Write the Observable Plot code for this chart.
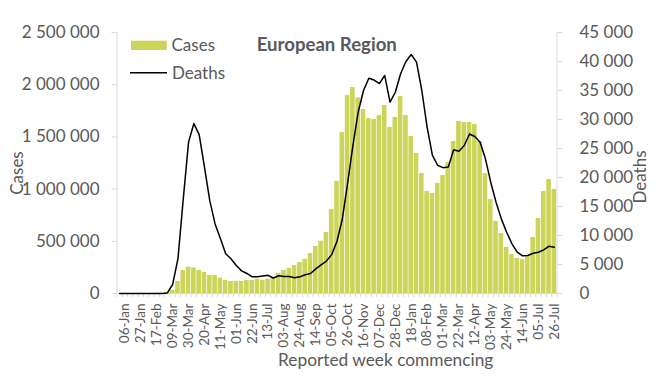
<!DOCTYPE html>
<html><head><meta charset="utf-8">
<script src="https://cdn.jsdelivr.net/npm/d3@7"></script>
<script src="https://cdn.jsdelivr.net/npm/@observablehq/plot@0.6"></script>
<style>
html,body{margin:0;padding:0;background:#fff;}
#chart{width:666px;height:378px;}
</style></head><body><div id="chart"></div>
<script>
// Reported week commencing (30-Dec-2019 .. 26-Jul-2021)
const weeks = ["30-Dec","06-Jan","13-Jan","20-Jan","27-Jan","03-Feb","10-Feb","17-Feb","24-Feb",
"02-Mar","09-Mar","16-Mar","23-Mar","30-Mar","06-Apr","13-Apr","20-Apr","27-Apr","04-May","11-May",
"18-May","25-May","01-Jun","08-Jun","15-Jun","22-Jun","29-Jun","06-Jul","13-Jul","20-Jul","27-Jul",
"03-Aug","10-Aug","17-Aug","24-Aug","31-Aug","07-Sep","14-Sep","21-Sep","28-Sep","05-Oct","12-Oct",
"19-Oct","26-Oct","02-Nov","09-Nov","16-Nov","23-Nov","30-Nov","07-Dec","14-Dec","21-Dec","28-Dec",
"04-Jan","11-Jan","18-Jan","25-Jan","01-Feb","08-Feb","15-Feb","22-Feb","01-Mar","08-Mar","15-Mar",
"22-Mar","29-Mar","05-Apr","12-Apr","19-Apr","26-Apr","03-May","10-May","17-May","24-May","31-May",
"07-Jun","14-Jun","21-Jun","28-Jun","05-Jul","12-Jul","19-Jul","26-Jul"];

const tickLabels = ["06-Jan","27-Jan","17-Feb","09-Mar","30-Mar","20-Apr","11-May","01-Jun","22-Jun",
"13-Jul","03-Aug","24-Aug","14-Sep","05-Oct","26-Oct","16-Nov","07-Dec","28-Dec","18-Jan","08-Feb",
"01-Mar","22-Mar","12-Apr","03-May","24-May","14-Jun","05-Jul","26-Jul"];

const cases = [0,0,0,0,0,0,0,500,2000,8000,
29000,115000,220000,252000,243000,220000,201000,172000,172000,147000,
125000,115000,115000,115000,127000,125000,137000,127000,137000,153000,
193000,221000,241000,268000,297000,329000,383000,450000,501000,585000,
805000,1073000,1542000,1896000,1973000,1874000,1762000,1676000,1667000,1705000,
1801000,1590000,1686000,1887000,1705000,1504000,1341000,1149000,977000,958000,
1054000,1130000,1255000,1456000,1647000,1638000,1638000,1619000,1456000,1149000,
900000,690000,575000,441000,374000,335000,326000,364000,536000,718000,
977000,1092000,996000];

const deaths = [0,0,0,0,0,0,0,0,0,100,
1550,6000,16300,26100,29300,27400,21800,16000,12000,9500,
6840,5980,4830,3900,3450,2870,2870,3000,3130,2670,
3050,2930,2930,2700,2870,3220,3450,4250,4950,5600,
6700,9000,12800,19000,25500,31300,35000,37100,36800,36200,
37600,33000,34700,37900,40000,41200,39900,35000,28700,23800,
22100,21700,21800,24770,24530,25520,27500,27070,26090,23220,
19190,15740,12870,10570,8570,7120,6500,6550,6950,7120,
7530,8160,7980];

const caseTicks = [0,500000,1000000,1500000,2000000,2500000];
const deathTicks = [0,5000,10000,15000,20000,25000,30000,35000,40000,45000];

const CASE_MAX = 2500000, DEATH_MAX = 45000, k = CASE_MAX / DEATH_MAX;
const data = weeks.map((w, i) => ({i, week: w, cases: cases[i], deaths: deaths[i]}));
const fmt = d3.formatLocale({decimal: ",", thousands: "\u00a0", grouping: [3], currency: ["", ""]}).format(",");
const labelIdx = tickLabels.map(l => weeks.indexOf(l));
const boundaries = d3.range(weeks.length + 1).map(i => i - 0.5);
const gray = "#d9d9d9", txt = "#595959", font = "Lato, 'Open Sans', sans-serif", barColor = "#ccd55a";

const chart = Plot.plot({
  width: 666, height: 378,
  marginLeft: 116.5, marginRight: 109.5, marginTop: 32, marginBottom: 85,
  style: {fontFamily: font, background: "#fff", color: txt},
  x: {type: "linear", domain: [-0.5, weeks.length - 0.5], axis: null},
  y: {domain: [0, CASE_MAX], axis: null},
  marks: [
    Plot.rectY(data, {x1: d => d.i - 0.5, x2: d => d.i + 0.5, y: "cases", fill: barColor, insetLeft: 0.35, insetRight: 0.35}),
    Plot.ruleY([0], {stroke: gray}),
    Plot.ruleX([-0.5, weeks.length - 0.5], {y1: 0, y2: CASE_MAX, stroke: gray}),
    Plot.axisY({anchor: "left", ticks: caseTicks, tickFormat: fmt, tickSize: 5, tickPadding: 12.5,
      stroke: gray, fill: txt, fontSize: 17, label: null}),
    Plot.axisY({anchor: "right", ticks: deathTicks.map(d => d * k), tickFormat: d => fmt(Math.round(d / k)),
      tickSize: 5, tickPadding: 17.5, stroke: gray, fill: txt, fontSize: 17, label: null}),
    Plot.axisX({ticks: boundaries, tickFormat: () => "", tickSize: 4, stroke: gray, label: null}),
    Plot.axisX({ticks: labelIdx, tickFormat: i => weeks[i], tickSize: 0, tickPadding: 10, tickRotate: -90,
      fill: txt, fontSize: 13.5, label: null}),
    Plot.line(data, {x: "i", y: d => d.deaths * k, stroke: "#000", strokeWidth: 1.5})
  ]
});

const svg = d3.select(chart);
const t = (x, y, s, opts = {}) => svg.append("text").attr("x", x).attr("y", y)
  .attr("fill", txt).attr("font-family", font).attr("font-size", opts.size || 17)
  .attr("font-weight", opts.weight || "normal").attr("text-anchor", opts.anchor || "start")
  .attr("transform", opts.rotate ? `rotate(-90 ${x} ${y})` : null).text(s);

// legend
svg.append("rect").attr("x", 131).attr("y", 40.7).attr("width", 35.7).attr("height", 9.3).attr("fill", barColor);
t(171.5, 50.7, "Cases");
svg.append("line").attr("x1", 130).attr("x2", 167).attr("y1", 72.7).attr("y2", 72.7).attr("stroke", "#000").attr("stroke-width", 1.5);
t(172, 79, "Deaths");
// title
t(256.7, 50.5, "European Region", {weight: "bold", size: 18.6});
// axis titles
t(23.3, 173, "Cases", {anchor: "middle", rotate: true});
t(645.5, 177, "Deaths", {anchor: "middle", rotate: true});
t(385.7, 366, "Reported week commencing", {anchor: "middle", size: 17.3});

document.getElementById("chart").appendChild(chart);
</script>
</body></html>
